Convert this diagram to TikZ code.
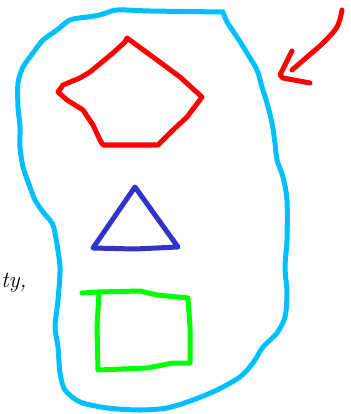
\documentclass[tikz,border=0pt]{standalone}
\begin{document}
\begin{tikzpicture}[x=1pt,y=-1pt,
  stroke/.style={line width=5pt,line cap=round,line join=round},
  outline/.style={stroke,draw=skyline},
  redpen/.style={stroke,draw=redink},
  bluepen/.style={stroke,draw=triblue},
  greenpen/.style={stroke,draw=greenink}]
\definecolor{skyline}{RGB}{0,191,255}
\definecolor{redink}{RGB}{255,0,0}
\definecolor{triblue}{RGB}{51,51,204}
\definecolor{greenink}{RGB}{0,255,0}
\useasboundingbox (0,0) rectangle (350,414);
% outline blob
\draw[outline] plot[smooth,tension=0.45] coordinates {
 (223,12) (227,22) (237,37) (247,53) (257,70) (262,87) (267,103) (272,123)
 (275,143) (277,160) (283,177) (287,200) (287,240) (285,267) (287,293)
 (285,317) (277,333) (263,347) (253,363) (240,377) (217,390) (193,400)
 (167,408) (140,410) (107,408) (80,402) (65,390) (60,373) (58,347) (55,327)
 (58,300) (60,267) (55,233) (52,223) (43,212) (35,200) (30,187) (23,167)
 (20,147) (20,127) (18,107) (18,83) (23,67) (33,53) (43,40) (57,30) (70,20)
 (87,17) (100,15) (117,10) (150,11) (223,12)};
% pentagon
\draw[redpen] (127,38) -- (157,60) -- (180,77) -- (202,97) -- (187,117)
 -- (173,130) -- (158,145) -- (103,145) -- (100,140) -- (93,125) -- (83,110)
 -- (67,100) -- (58,92) -- (63,85) -- (80,78) -- (90,72) -- (113,53)
 -- (125,42) -- cycle;
% arrow
\draw[redpen] plot[smooth,tension=0.6] coordinates {(342,10) (337,27) (323,43) (307,57) (292,70)};
\draw[redpen] (292,51) -- (280,75) -- (283,78) -- (310,83);
% triangle
\draw[bluepen] (135,187) -- (150,208) -- (178,247) -- (135,249) -- (93,248) -- cycle;
% square
\draw[greenpen] (82,293) -- (98,292) -- (140,291) -- (157,295) -- (188,298)
 -- (190,327) -- (190,363) -- (173,363) -- (147,368) -- (98,370) -- (97,327) -- (99,293);
% text
\node[anchor=base west,inner sep=0pt,font=\fontsize{23}{28}\selectfont\itshape] (frag) at (1,287) {ty,};
\end{tikzpicture}
\end{document}
